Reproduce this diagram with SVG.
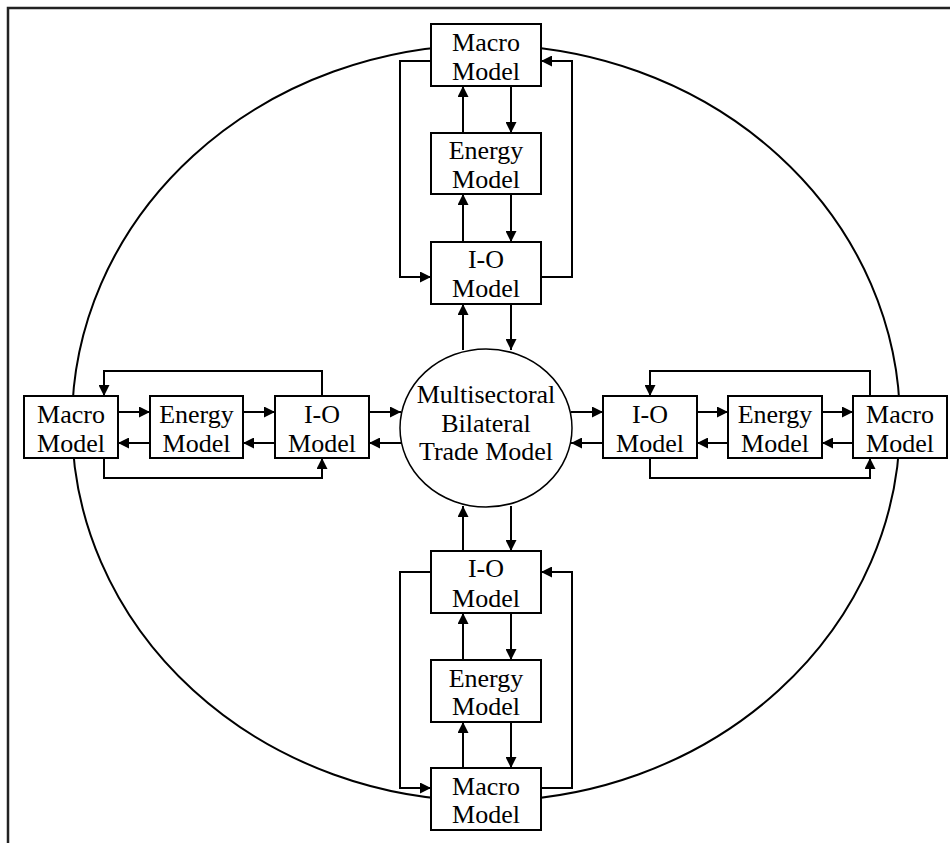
<svg xmlns="http://www.w3.org/2000/svg" width="950" height="843" viewBox="0 0 950 843">
  <style>
    .box { fill: #fff; stroke: #000; stroke-width: 2; }
    .lbl { font-size: 26px; fill: #000; text-anchor: middle; }
    .link { fill: none; stroke: #000; stroke-width: 2; marker-end: url(#arrow); }
    .ring { fill: none; stroke: #000; stroke-width: 2; }
  </style>
  <defs>
    <marker id="arrow" markerUnits="userSpaceOnUse" markerWidth="11" markerHeight="11" refX="11" refY="5.5" orient="auto">
      <path d="M0,0 L11,5.5 L0,11 z" fill="#000"/>
    </marker>
  </defs>

  <rect width="950" height="843" fill="#fff"/>

  <!-- frame -->
  <path d="M8,843 V8 H950" fill="none" stroke="#222" stroke-width="2.5"/>

  <!-- outer ring -->
  <ellipse class="ring" cx="486" cy="423" rx="414" ry="378"/>

  <!-- connectors -->
  <g id="connectors">
    <!-- top column -->
    <path class="link" d="M463,133 V86"/>
    <path class="link" d="M511,86 V133"/>
    <path class="link" d="M463,242 V194"/>
    <path class="link" d="M511,194 V242"/>
    <path class="link" d="M431,61 H400 V277 H431"/>
    <path class="link" d="M541,277 H572 V61 H541"/>
    <path class="link" d="M463,350 V304"/>
    <path class="link" d="M511,304 V350"/>

    <!-- bottom column -->
    <path class="link" d="M463,551 V506"/>
    <path class="link" d="M511,506 V551"/>
    <path class="link" d="M463,660 V613"/>
    <path class="link" d="M511,613 V660"/>
    <path class="link" d="M463,768 V722"/>
    <path class="link" d="M511,722 V768"/>
    <path class="link" d="M431,572 H400 V788 H431"/>
    <path class="link" d="M541,788 H572 V572 H541"/>

    <!-- left row -->
    <path class="link" d="M118,412 H150"/>
    <path class="link" d="M150,443 H118"/>
    <path class="link" d="M243,412 H275"/>
    <path class="link" d="M275,443 H243"/>
    <path class="link" d="M369,412 H401"/>
    <path class="link" d="M401,443 H369"/>
    <path class="link" d="M322,396 V371 H104 V396"/>
    <path class="link" d="M104,458 V478 H322 V458"/>

    <!-- right row -->
    <path class="link" d="M571,412 H603"/>
    <path class="link" d="M603,443 H571"/>
    <path class="link" d="M697,412 H728"/>
    <path class="link" d="M728,443 H697"/>
    <path class="link" d="M822,412 H853"/>
    <path class="link" d="M853,443 H822"/>
    <path class="link" d="M870,396 V371 H650 V396"/>
    <path class="link" d="M650,458 V478 H870 V458"/>
  </g>

  <g font-family="'Liberation Serif', 'DejaVu Serif', serif">
  <!-- centre -->
  <g id="trade">
    <ellipse cx="486" cy="428" rx="86" ry="79" fill="#fff" stroke="#000" stroke-width="1.5"/>
    <text class="lbl" x="486" y="403">Multisectoral</text>
    <text class="lbl" x="486" y="432">Bilateral</text>
    <text class="lbl" x="486" y="460">Trade Model</text>
  </g>

  <!-- top column -->
  <g id="top-macro">
    <rect class="box" x="431" y="24" width="110" height="62"/>
    <text class="lbl" x="486" y="51">Macro</text>
    <text class="lbl" x="486" y="80">Model</text>
  </g>
  <g id="top-energy">
    <rect class="box" x="431" y="133" width="110" height="61"/>
    <text class="lbl" x="486" y="159">Energy</text>
    <text class="lbl" x="486" y="188">Model</text>
  </g>
  <g id="top-io">
    <rect class="box" x="431" y="242" width="110" height="62"/>
    <text class="lbl" x="486" y="268">I-O</text>
    <text class="lbl" x="486" y="297">Model</text>
  </g>

  <!-- bottom column -->
  <g id="bottom-io">
    <rect class="box" x="431" y="551" width="110" height="62"/>
    <text class="lbl" x="486" y="577">I-O</text>
    <text class="lbl" x="486" y="607">Model</text>
  </g>
  <g id="bottom-energy">
    <rect class="box" x="431" y="660" width="110" height="62"/>
    <text class="lbl" x="486" y="687">Energy</text>
    <text class="lbl" x="486" y="715">Model</text>
  </g>
  <g id="bottom-macro">
    <rect class="box" x="431" y="768" width="110" height="62"/>
    <text class="lbl" x="486" y="795">Macro</text>
    <text class="lbl" x="486" y="823">Model</text>
  </g>

  <!-- left row -->
  <g id="left-macro">
    <rect class="box" x="24" y="396" width="94" height="62"/>
    <text class="lbl" x="71" y="423">Macro</text>
    <text class="lbl" x="71" y="452">Model</text>
  </g>
  <g id="left-energy">
    <rect class="box" x="150" y="396" width="93" height="62"/>
    <text class="lbl" x="196.5" y="423">Energy</text>
    <text class="lbl" x="196.5" y="452">Model</text>
  </g>
  <g id="left-io">
    <rect class="box" x="275" y="396" width="94" height="62"/>
    <text class="lbl" x="322" y="423">I-O</text>
    <text class="lbl" x="322" y="452">Model</text>
  </g>

  <!-- right row -->
  <g id="right-io">
    <rect class="box" x="603" y="396" width="94" height="62"/>
    <text class="lbl" x="650" y="423">I-O</text>
    <text class="lbl" x="650" y="452">Model</text>
  </g>
  <g id="right-energy">
    <rect class="box" x="728" y="396" width="94" height="62"/>
    <text class="lbl" x="775" y="423">Energy</text>
    <text class="lbl" x="775" y="452">Model</text>
  </g>
  <g id="right-macro">
    <rect class="box" x="853" y="396" width="94" height="62"/>
    <text class="lbl" x="900" y="423">Macro</text>
    <text class="lbl" x="900" y="452">Model</text>
  </g>
  </g>
</svg>
